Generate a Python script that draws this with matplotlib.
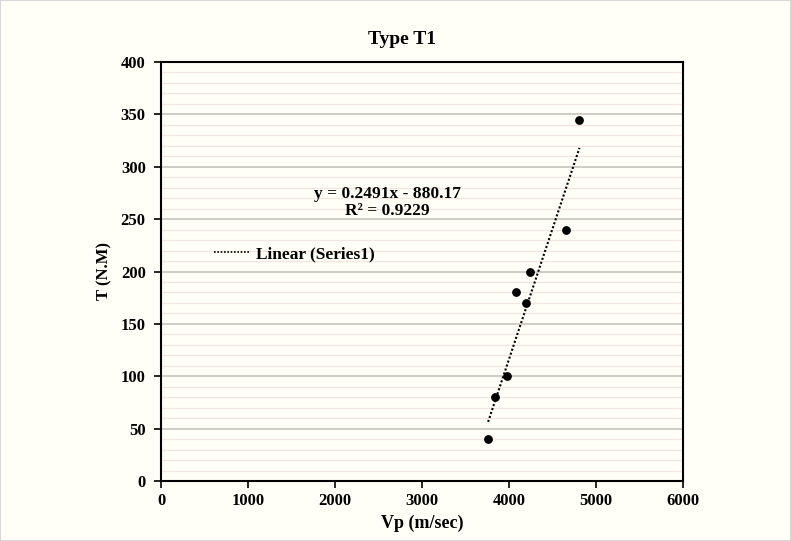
import matplotlib
matplotlib.use("Agg")
import matplotlib.pyplot as plt
import numpy as np
from matplotlib.lines import Line2D

vp = [3760, 3840, 3975, 4075, 4195, 4245, 4660, 4810]
torque = [40, 80, 100, 180, 170, 200, 240, 345]
slope = 0.2491
intercept = -880.17
r2 = 0.9229
title = "Type T1"
xlabel = "Vp (m/sec)"
ylabel = "T (N.M)"

plt.rcParams['font.family'] = ['Liberation Serif', 'DejaVu Serif']
bg = '#fffff8'
fig = plt.figure(figsize=(7.91, 5.41), dpi=100, facecolor=bg)
ax = fig.add_axes([161/791, 1-481/541, (683-161)/791, (481-62)/541])
ax.set_facecolor(bg)

ax.set_xlim(0, 6000)
ax.set_ylim(0, 400)
ax.set_xticks(np.arange(0, 6001, 1000))
ax.set_yticks(np.arange(0, 401, 50))
ax.set_yticks(np.arange(0, 401, 10), minor=True)
ax.grid(True, which='major', axis='y', color='#c8c4c0', lw=1.2, zorder=0)
ax.grid(True, which='minor', axis='y', color='#f2e6e0', lw=1.0, zorder=0)
ax.tick_params(axis='y', which='minor', length=0)
ax.tick_params(axis='both', which='major', direction='out', length=5, width=1.2,
               labelsize=12)
ax.tick_params(axis='y', pad=6)
for lbl in ax.get_xticklabels() + ax.get_yticklabels():
    lbl.set_fontweight('bold')
for s in ax.spines.values():
    s.set_linewidth(1.5)
    s.set_color('black')

ax.scatter(vp, torque, s=28, color='black', zorder=3)
xs = np.array([min(vp), max(vp)])
ax.plot(xs, slope * xs + intercept, ls=(0, (1, 1)), color='black', lw=1.5, zorder=2)

ax.text(2600, 266, f"y = {slope}x - {abs(intercept):.2f}\nR² = {r2}", ha='center', va='center',
        fontsize=12.5, fontweight='bold', linespacing=1.05)

h = Line2D([], [], ls=(0, (1, 1)), color='black', lw=1.2)
ax.legend([h], ["Linear (Series1)"], loc='upper left', bbox_to_anchor=(0.072, 0.598),
          frameon=False, prop={'weight': 'bold', 'size': 12.5}, handlelength=2.0,
          handletextpad=0.4)

fig.text(402/791, 1-40/541, title, ha='center', va='center', fontsize=14, fontweight='bold')
ax.set_xlabel(xlabel, fontsize=13, fontweight='bold', labelpad=4)
ax.set_ylabel(ylabel, fontsize=12, fontweight='bold', labelpad=6)

fig.patches.append(plt.Rectangle((0, 0), 1, 1, transform=fig.transFigure,
                                 fill=False, edgecolor='#d8d8d8', lw=1.5))
fig.savefig("out.png", dpi=100, facecolor=bg)
